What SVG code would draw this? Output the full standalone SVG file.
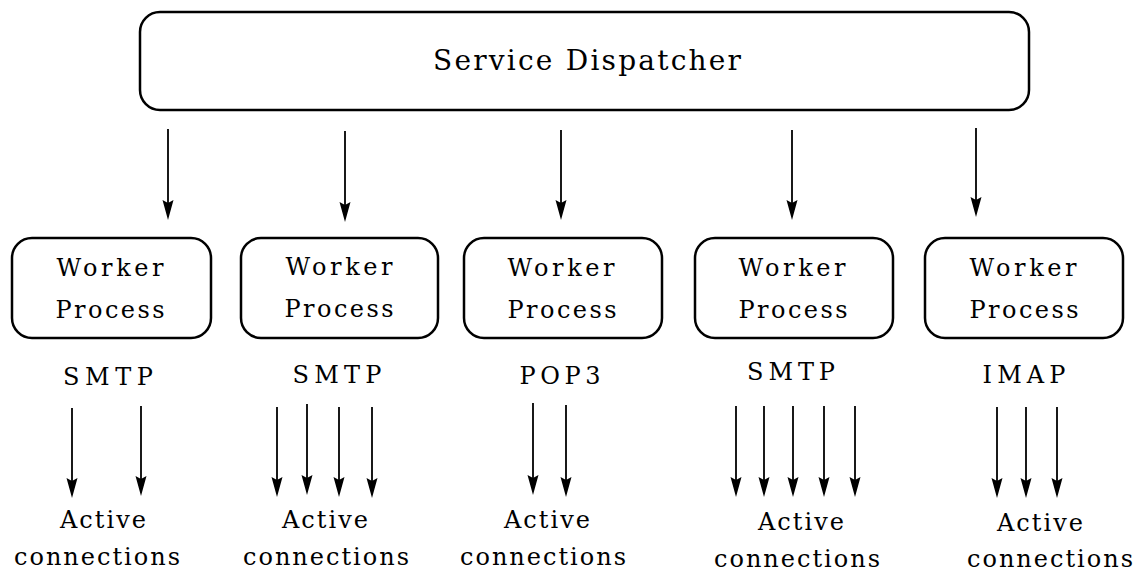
<svg xmlns="http://www.w3.org/2000/svg" width="1138" height="574" viewBox="0 0 1138 574">
<defs>
<style>
.box{fill:#fff;stroke:#000;stroke-width:2.5}
.t{font-family:"DejaVu Serif","Liberation Serif",serif;font-size:24px;fill:#000;text-anchor:middle}
.big{font-size:28px}
.c line{stroke:#000;stroke-width:1.8;marker-end:url(#ah)}
</style>
<marker id="ah" markerUnits="userSpaceOnUse" viewBox="-1 -7 22 14" refX="12" refY="0" markerWidth="22" markerHeight="14" orient="auto">
<path d="M0,-5.5 L20,0 L0,5.5 L3,0 z" fill="#000"/>
</marker>
</defs>
<rect width="1138" height="574" fill="#fff"/>
<g id="dispatcher">
<rect class="box" x="140" y="12" width="889" height="98" rx="20"/>
<text class="t big" x="587" y="70" textLength="308" lengthAdjust="spacing">Service Dispatcher</text>
</g>
<g id="worker1">
<rect class="box" x="12" y="238" width="199" height="100" rx="20"/>
<text class="t" x="110" y="276" textLength="107" lengthAdjust="spacing">Worker</text>
<text class="t" x="110" y="318" textLength="109" lengthAdjust="spacing">Process</text>
</g>
<g id="worker2">
<rect class="box" x="241" y="238" width="197" height="100" rx="20"/>
<text class="t" x="339" y="275" textLength="107" lengthAdjust="spacing">Worker</text>
<text class="t" x="339" y="317" textLength="109" lengthAdjust="spacing">Process</text>
</g>
<g id="worker3">
<rect class="box" x="464" y="238" width="198" height="100" rx="20"/>
<text class="t" x="561" y="276" textLength="107" lengthAdjust="spacing">Worker</text>
<text class="t" x="562" y="318" textLength="109" lengthAdjust="spacing">Process</text>
</g>
<g id="worker4">
<rect class="box" x="695" y="238" width="198" height="100" rx="20"/>
<text class="t" x="792" y="276" textLength="107" lengthAdjust="spacing">Worker</text>
<text class="t" x="793" y="318" textLength="109" lengthAdjust="spacing">Process</text>
</g>
<g id="worker5">
<rect class="box" x="925" y="238" width="198" height="100" rx="20"/>
<text class="t" x="1023" y="276" textLength="107" lengthAdjust="spacing">Worker</text>
<text class="t" x="1024" y="318" textLength="109" lengthAdjust="spacing">Process</text>
</g>
<g id="labels">
<text class="t" x="108" y="385" textLength="90" lengthAdjust="spacing">SMTP</text>
<text class="t" x="337" y="383" textLength="89" lengthAdjust="spacing">SMTP</text>
<text class="t" x="560" y="384" textLength="81" lengthAdjust="spacing">POP3</text>
<text class="t" x="791" y="380" textLength="88" lengthAdjust="spacing">SMTP</text>
<text class="t" x="1024" y="383" textLength="83" lengthAdjust="spacing">IMAP</text>
</g>
<g id="conn1">
<text class="t" x="103" y="528" textLength="86" lengthAdjust="spacing">Active</text>
<text class="t" x="97" y="565" textLength="166" lengthAdjust="spacing">connections</text>
</g>
<g id="conn2">
<text class="t" x="325" y="528" textLength="86" lengthAdjust="spacing">Active</text>
<text class="t" x="326" y="565" textLength="166" lengthAdjust="spacing">connections</text>
</g>
<g id="conn3">
<text class="t" x="547" y="528" textLength="86" lengthAdjust="spacing">Active</text>
<text class="t" x="543" y="565" textLength="166" lengthAdjust="spacing">connections</text>
</g>
<g id="conn4">
<text class="t" x="801" y="530" textLength="86" lengthAdjust="spacing">Active</text>
<text class="t" x="797" y="567" textLength="166" lengthAdjust="spacing">connections</text>
</g>
<g id="conn5">
<text class="t" x="1040" y="531" textLength="86" lengthAdjust="spacing">Active</text>
<text class="t" x="1050" y="567" textLength="166" lengthAdjust="spacing">connections</text>
</g>
<g id="connectors" class="c">
<line x1="168" y1="129" x2="168" y2="212"/>
<line x1="345" y1="131" x2="345" y2="214"/>
<line x1="561" y1="130" x2="561" y2="212"/>
<line x1="792" y1="130" x2="792" y2="212"/>
<line x1="976" y1="128" x2="976" y2="209"/>
<line x1="72" y1="408" x2="72" y2="490"/>
<line x1="141" y1="406" x2="141" y2="488"/>
<line x1="277" y1="407" x2="277" y2="489"/>
<line x1="307" y1="404" x2="307" y2="487"/>
<line x1="339" y1="407" x2="339" y2="489"/>
<line x1="372" y1="407" x2="372" y2="490"/>
<line x1="533" y1="403" x2="533" y2="487"/>
<line x1="566" y1="405" x2="566" y2="489"/>
<line x1="736" y1="406" x2="736" y2="489"/>
<line x1="764" y1="406" x2="764" y2="489"/>
<line x1="793" y1="406" x2="793" y2="489"/>
<line x1="824" y1="406" x2="824" y2="489"/>
<line x1="855" y1="406" x2="855" y2="489"/>
<line x1="997" y1="407" x2="997" y2="490"/>
<line x1="1026" y1="407" x2="1026" y2="490"/>
<line x1="1057" y1="407" x2="1057" y2="490"/>
</g>
</svg>
